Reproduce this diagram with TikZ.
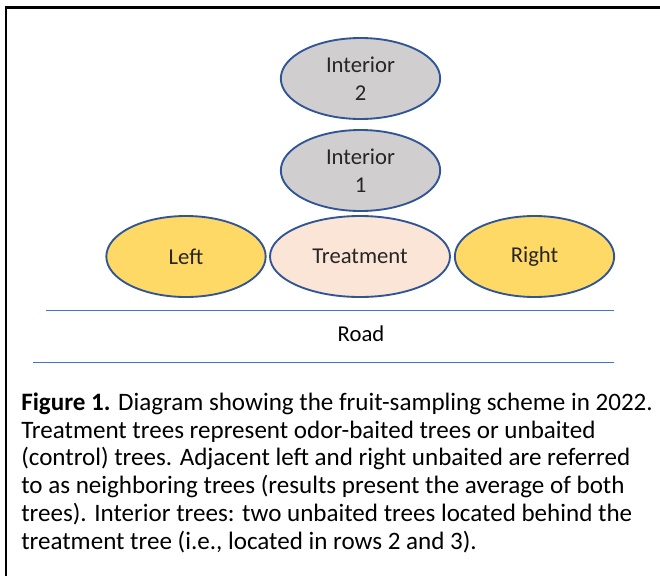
\documentclass[tikz,border=0pt]{standalone}
\usepackage{fontspec}
\setmainfont{Carlito}
\usetikzlibrary{shapes.geometric}
\definecolor{edgeblue}{HTML}{2F5597}
\definecolor{roadblue}{HTML}{4472C4}
\definecolor{treegray}{HTML}{D0CECE}
\definecolor{treeyellow}{HTML}{FFD966}
\definecolor{treepeach}{HTML}{FBE5D6}
\definecolor{labelgray}{HTML}{262626}
\begin{document}
\begin{tikzpicture}[x=0.75pt,y=-0.75pt,
  tree/.style={ellipse,draw=edgeblue,line width=1.4pt,inner sep=0pt,
    minimum width=119.5pt,minimum height=60.75pt,align=center,
    font=\fontsize{17}{21}\selectfont,text=labelgray},
  road/.style={draw=roadblue,line width=0.7pt}]
\useasboundingbox (0,0) rectangle (660,575);
\draw[line width=2pt,line cap=rect] (6,575) -- (6,7.5) -- (660,7.5);
\node[tree,fill=treegray] (int2) at (360.5,78.5) {Interior\\2};
\node[tree,fill=treegray] (int1) at (360.5,170.5) {Interior\\1};
\node[tree,fill=treeyellow] (left) at (186,256.5) {Left};
\node[tree,fill=treepeach,minimum width=135pt] (treat) at (360,256.5) {Treatment};
\node[tree,fill=treeyellow] (right) at (534.5,256.5) {Right};
\coordinate (r1a) at (46,310);
\coordinate (r1b) at (614,310);
\coordinate (r2a) at (33,362);
\coordinate (r2b) at (614,362);
\draw[road] (r1a) -- (r1b);
\draw[road] (r2a) -- (r2b);
\node[font=\fontsize{17}{20}\selectfont,text=black] (road) at (361,334) {Road};
\node[anchor=base west,inner sep=0pt,align=left,font=\fontsize{18.8}{20.8}\selectfont] (cap) at (21,549)
{\textbf{Figure 1.} Diagram showing the fruit-sampling scheme in 2022.\\
Treatment trees represent odor-baited trees or unbaited\\
(control) trees. Adjacent left and right unbaited are referred\\
to as neighboring trees (results present the average of both\\
trees). Interior trees: two unbaited trees located behind the\\
treatment tree (i.e., located in rows 2 and 3).};
\end{tikzpicture}
\end{document}
